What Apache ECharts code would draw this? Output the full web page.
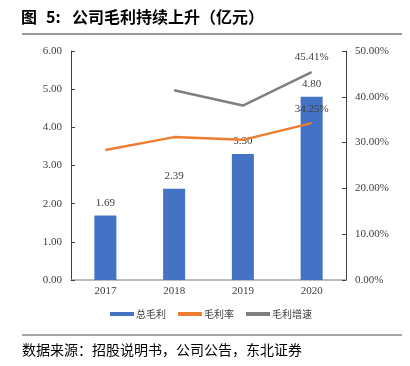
<!DOCTYPE html>
<html><head><meta charset="utf-8">
<script src="https://cdn.jsdelivr.net/npm/echarts@6/dist/echarts.min.js"></script>
<style>html,body{margin:0;padding:0;background:#fff}#c{width:410px;height:366px}</style>
</head><body><div id="c"></div>
<script>
const categories = ['2017', '2018', '2019', '2020'];
const grossProfit = [1.69, 2.39, 3.30, 4.80];
const grossMargin = [28.4, 31.2, 30.6, 34.25];
const profitGrowth = [null, 41.42, 38.08, 45.41];
const leftTicks = [0, 1, 2, 3, 4, 5, 6];
const rightTicks = [0, 10, 20, 30, 40, 50];

const numFont = 'Liberation Serif';
const cjk = '"Noto Sans CJK SC"';
const chart = echarts.init(document.getElementById('c'));
const lastLabel = arr => arr.map((v, i) => i === arr.length - 1 ? {value: v, symbolSize: 0.01, label: {show: true, position: 'top', distance: 9, formatter: p => p.value.toFixed(2) + '%', fontFamily: numFont, fontSize: 11, color: '#404040'}} : v);
const titleFont = 'bold 16px "Noto Sans CJK SC"';
chart.setOption({
  animation: false,
  graphic: [
    {type: 'text', left: 21, top: 9, style: {text: '图', font: titleFont, fill: '#000'}},
    {type: 'text', left: 46, top: 9, style: {text: '5:', font: titleFont, fill: '#000'}},
    {type: 'text', left: 72, top: 9, style: {text: '公司毛利持续上升（亿元）', font: titleFont, fill: '#000'}},
    {type: 'line', shape: {x1: 22, y1: 34, x2: 402, y2: 34}, style: {stroke: '#333', lineWidth: 1.2}},
    {type: 'line', shape: {x1: 22, y1: 335, x2: 402, y2: 335}, style: {stroke: '#888', lineWidth: 1.5}},
    {type: 'text', left: 22, top: 343, style: {text: '数据来源：招股说明书，公司公告，东北证券', font: '14px "Noto Sans CJK SC"', fill: '#000'}}
  ],
  legend: {top: 304, left: 105, itemWidth: 24, itemHeight: 4, itemGap: 12, textStyle: {fontFamily: cjk, fontSize: 10, color: '#404040', padding: [0,0,0,-3]},
    data: [{name: '总毛利', icon: 'rect'}, {name: '毛利率', icon: 'rect'}, {name: '毛利增速', icon: 'rect'}]},
  grid: {left: 71, right: 64, top: 51, bottom: 86},
  xAxis: {type: 'category', data: categories, axisTick: {show: false},
    axisLine: {lineStyle: {color: '#A6A6A6', width: 1.5}},
    axisLabel: {fontFamily: numFont, fontSize: 11, color: '#404040', margin: 6}},
  yAxis: [
    {type: 'value', min: 0, max: 6, interval: 1, splitLine: {show: false},
      axisLine: {show: true, lineStyle: {color: '#404040'}}, axisTick: {show: true, inside: true, length: 4, lineStyle: {color: '#404040'}},
      axisLabel: {formatter: v => v.toFixed(2), fontFamily: numFont, fontSize: 11, color: '#404040', margin: 9}},
    {type: 'value', min: 0, max: 50, interval: 10, splitLine: {show: false},
      axisLine: {show: true, lineStyle: {color: '#404040'}}, axisTick: {show: true, inside: true, length: 4, lineStyle: {color: '#404040'}},
      axisLabel: {formatter: v => v.toFixed(2) + '%', fontFamily: numFont, fontSize: 11, color: '#404040', margin: 9}}
  ],
  series: [
    {name: '总毛利', type: 'bar', data: grossProfit, barWidth: 22, itemStyle: {color: '#4472C4'},
      label: {show: true, position: 'top', distance: 7, formatter: p => p.value.toFixed(2), fontFamily: numFont, fontSize: 11, color: '#404040'}},
    {name: '毛利率', type: 'line', yAxisIndex: 1, data: lastLabel(grossMargin), symbol: 'circle', symbolSize: 0.01, showSymbol: true, lineStyle: {color: '#ED7D31', width: 2.5}, itemStyle: {color: '#ED7D31'}},
    {name: '毛利增速', type: 'line', yAxisIndex: 1, data: lastLabel(profitGrowth), symbol: 'circle', symbolSize: 0.01, showSymbol: true, lineStyle: {color: '#7F7F7F', width: 2.5}, itemStyle: {color: '#7F7F7F'}}
  ]
});
</script></body></html>
